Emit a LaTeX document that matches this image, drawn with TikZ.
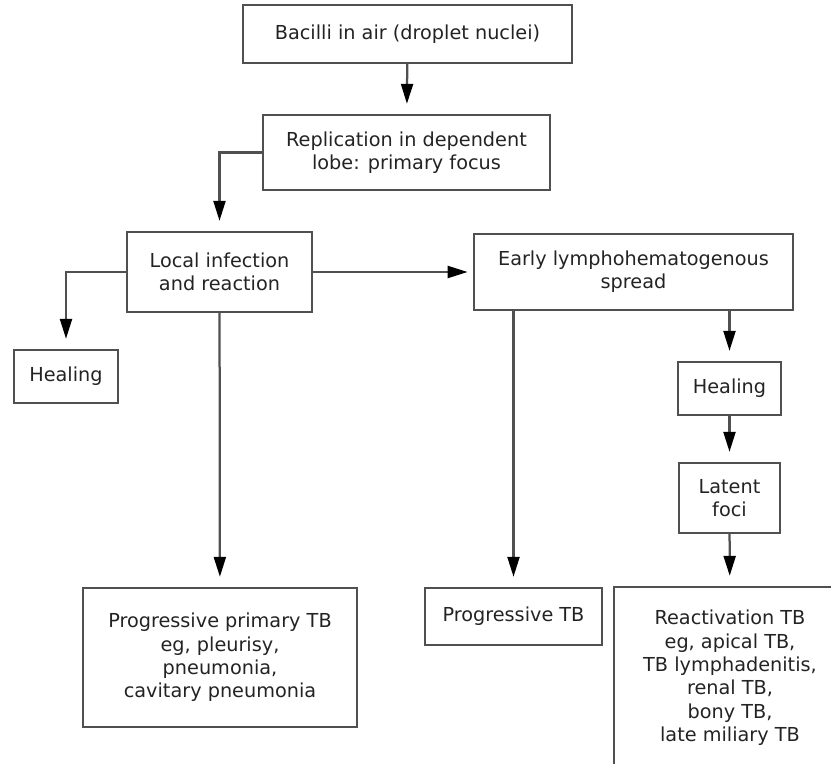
\documentclass[tikz,border=0pt]{standalone}
\usepackage{fontspec}
\setmainfont{DejaVu Sans}
\usetikzlibrary{arrows.meta}
\definecolor{trait}{RGB}{80,80,80}
\definecolor{texte}{RGB}{35,35,35}
\tikzset{
  box/.style 2 args={draw=trait, line width=1.7pt, text=texte, align=center,
    minimum width=#1*0.025cm, minimum height=#2*0.025cm, inner sep=0pt},
  flow/.style={draw=trait, line width=1.6pt,
    -{Triangle[length=5mm,width=3mm,color=black]}, shorten >=2.5mm}
}
\begin{document}
\begin{tikzpicture}[x=0.025cm, y=-0.025cm, font=\fontsize{13.7pt}{16.6pt}\selectfont]
			\clip (0,0) rectangle (831,764);
			\node[box={329}{58}] (B) at (407.5,34) {Bacilli in air (droplet nuclei)};
			\node[box={287}{75}] (R) at (406.5,152.5) {Replication in dependent\\lobe: primary focus};
			\node[box={185}{80}] (L) at (219.5,272) {Local infection\\and reaction};
			\node[box={319}{76}] (E) at (633.5,272) {Early lymphohematogenous\\spread};
			\node[box={104}{53}] (H1) at (66,376.5) {Healing};
			\node[box={103}{53}] (H2) at (729.5,388.5) {Healing};
			\node[box={101}{70}] (LF) at (729.5,498) {Latent\\foci};
			\node[box={274}{139}] (PP) at (220,657.5) {Progressive primary TB\\eg, pleurisy,\\pneumonia,\\cavitary pneumonia};
			\node[box={177}{57}] (PT) at (513.5,616.5) {Progressive TB};
			\node[box={232}{182}] (RT) at (730,678) {Reactivation TB\\eg, apical TB,\\TB lymphadenitis,\\renal TB,\\bony TB,\\late miliary TB};
			\draw[flow] (B)--(R);
			\draw[flow] (R.west) -| (L.north);
			\draw[flow] (L.west) -| (H1.north);
			\draw[flow, shorten >=1.3mm] (L)--(E);
			\draw[flow] (L)--(PP);
			\draw[flow] (PT.north |- E.south)--(PT);
			\draw[flow] (H2.north |- E.south)--(H2);
			\draw[flow] (H2)--(LF);
			\draw[flow] (LF)--(RT);
		\end{tikzpicture}
\end{document}
